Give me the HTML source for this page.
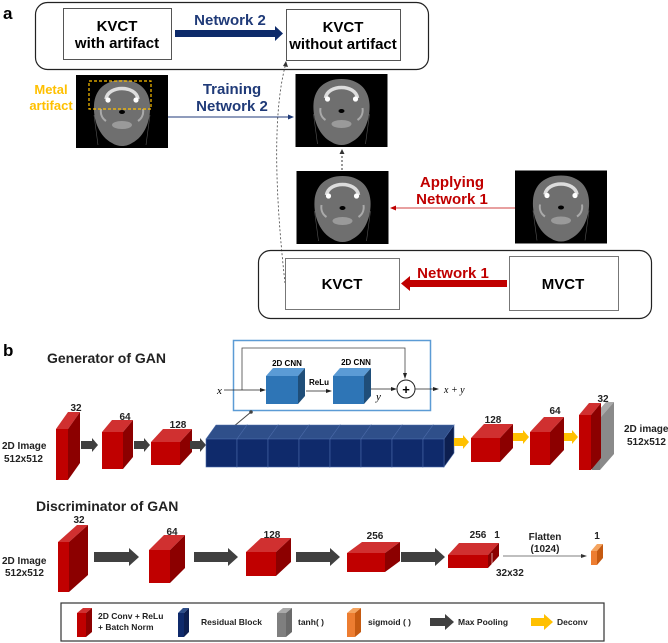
<!DOCTYPE html>
<html><head><meta charset="utf-8"><style>
html,body{margin:0;padding:0;background:#fff;}
svg{display:block;font-family:"Liberation Sans",Arial,sans-serif;}
.b{font-weight:bold;}
</style></head><body>
<svg width="668" height="643" viewBox="0 0 668 643" xmlns="http://www.w3.org/2000/svg">
<defs>
<symbol id="ct" viewBox="0 0 92 73">
<rect width="92" height="73" fill="#000"/>
<path d="M22 70 L18 40 M70 70 L74 40" stroke="#555" stroke-width="0.6" fill="none"/>
<path d="M46 5 C62 5 73 14 74 30 C75 46 68 62 56 68 C50 72 42 72 36 68 C24 62 17 46 18 30 C19 14 30 5 46 5Z" fill="#6f6f6f"/>
<path d="M30 24 C32 10 60 10 62 24" stroke="#ddd" stroke-width="3.5" fill="none"/>
<circle cx="32" cy="25" r="2.6" fill="#fff"/><circle cx="60" cy="25" r="2.6" fill="#fff"/>
<path d="M25 34 C24 40 27 44 30 46 M67 34 C68 40 65 44 62 46" stroke="#aaa" stroke-width="2" fill="none"/>
<ellipse cx="46" cy="37" rx="3" ry="2" fill="#000"/>
<ellipse cx="46" cy="50" rx="10" ry="4" fill="#9a9a9a"/>
</symbol>
</defs>

<!-- section a -->
<text x="3" y="19" class="b" font-size="17">a</text>
<rect x="35.5" y="2.5" width="393" height="67" rx="12" fill="none" stroke="#222" stroke-width="1.2"/>
<rect x="63.5" y="8.5" width="108" height="51" fill="#fff" stroke="#555"/>
<text x="117" y="31" text-anchor="middle" class="b" font-size="15">KVCT</text>
<text x="117" y="48" text-anchor="middle" class="b" font-size="15">with artifact</text>
<text x="230" y="25" text-anchor="middle" class="b" font-size="15" fill="#1f3a78">Network 2</text>
<polygon points="175,30 275,30 275,26 283,33.5 275,41 275,37 175,37" fill="#0d2a6a"/>
<rect x="286.5" y="9.5" width="114" height="51" fill="#fff" stroke="#555"/>
<text x="343" y="32" text-anchor="middle" class="b" font-size="15">KVCT</text>
<text x="343" y="49" text-anchor="middle" class="b" font-size="15">without artifact</text>

<use href="#ct" x="76" y="75" width="92" height="73"/>
<rect x="89" y="81" width="62" height="28" fill="none" stroke="#ffc000" stroke-width="1.2" stroke-dasharray="3,2"/>
<text x="51" y="94" text-anchor="middle" class="b" font-size="13" fill="#ffc000">Metal</text>
<text x="51" y="110" text-anchor="middle" class="b" font-size="13" fill="#ffc000">artifact</text>
<text x="232" y="94" text-anchor="middle" class="b" font-size="15" fill="#1f3a78">Training</text>
<text x="232" y="111" text-anchor="middle" class="b" font-size="15" fill="#1f3a78">Network 2</text>
<line x1="168" y1="117" x2="290" y2="117" stroke="#1f3a78" stroke-width="1"/>
<polygon points="294,117 288,114.5 288,119.5" fill="#1f3a78"/>
<use href="#ct" x="295" y="74" width="93" height="73"/>

<line x1="342" y1="170" x2="342" y2="153" stroke="#333" stroke-dasharray="2,2"/>
<polygon points="342,149 339.5,154 344.5,154" fill="#333"/>
<use href="#ct" x="295" y="171" width="95" height="73"/>
<use href="#ct" x="515" y="170" width="92" height="74"/>
<text x="452" y="187" text-anchor="middle" class="b" font-size="15" fill="#c00000">Applying</text>
<text x="452" y="204" text-anchor="middle" class="b" font-size="15" fill="#c00000">Network 1</text>
<line x1="515" y1="208" x2="394" y2="208" stroke="#d04040" stroke-width="1"/>
<polygon points="390,208 396,205.5 396,210.5" fill="#c00000"/>

<path d="M285 283 C278 220 270 120 286 63" stroke="#444" stroke-width="0.8" fill="none" stroke-dasharray="2,2"/>
<polygon points="286,61 283,66 288,67" fill="#333"/>

<rect x="258.5" y="250.5" width="393" height="68" rx="12" fill="none" stroke="#222" stroke-width="1.2"/>
<rect x="285.5" y="258.5" width="114" height="51" fill="#fff" stroke="#777"/>
<text x="342" y="289" text-anchor="middle" class="b" font-size="15">KVCT</text>
<rect x="509.5" y="256.5" width="109" height="54" fill="#fff" stroke="#777"/>
<text x="563" y="289" text-anchor="middle" class="b" font-size="15">MVCT</text>
<text x="453" y="278" text-anchor="middle" class="b" font-size="15" fill="#c00000">Network 1</text>
<polygon points="507,280 410,280 410,276 401,283.5 410,291 410,287 507,287" fill="#c00000"/>

<!-- section b -->
<text x="3" y="356" class="b" font-size="17">b</text>
<text x="47" y="363" class="b" font-size="14" fill="#222">Generator of GAN</text>
<rect x="233.5" y="340.5" width="197" height="70" fill="none" stroke="#5b9bd5" stroke-width="1.5"/>
<path d="M242 390 L242 348 L405 348 L405 374" stroke="#444" stroke-width="0.8" fill="none"/>
<polygon points="405,379 403,373 407,373" fill="#222"/>
<text x="217" y="394" font-family="Liberation Serif,serif" font-style="italic" font-size="11">x</text>
<line x1="224" y1="390" x2="262" y2="390" stroke="#222" stroke-width="0.8"/>
<polygon points="266,390 260,388 260,392" fill="#222"/>
<text x="287" y="366" text-anchor="middle" font-size="8" class="b">2D CNN</text>
<polygon points="266,376 273,368 305,368 298,376" fill="#5b9bd5"/>
<polygon points="298,376 305,368 305,396 298,404" fill="#1f4e79"/>
<rect x="266" y="376" width="32" height="28" fill="#2e75b6"/>
<text x="319" y="385" text-anchor="middle" font-size="8" class="b">ReLu</text>
<line x1="306" y1="391" x2="328" y2="391" stroke="#222" stroke-width="0.8"/>
<polygon points="332,391 326,389 326,393" fill="#222"/>
<text x="356" y="365" text-anchor="middle" font-size="8" class="b">2D CNN</text>
<polygon points="333,376 340,368 371,368 364,376" fill="#5b9bd5"/>
<polygon points="364,376 371,368 371,396 364,404" fill="#1f4e79"/>
<rect x="333" y="376" width="31" height="28" fill="#2e75b6"/>
<text x="376" y="400" font-family="Liberation Serif,serif" font-style="italic" font-size="11">y</text>
<line x1="371" y1="389" x2="393" y2="389" stroke="#222" stroke-width="0.8"/>
<polygon points="397,389 391,387 391,391" fill="#222"/>
<circle cx="406" cy="389" r="9" fill="#fff" stroke="#222"/>
<text x="406" y="394" text-anchor="middle" font-size="13" class="b">+</text>
<line x1="415" y1="389" x2="435" y2="389" stroke="#222" stroke-width="0.8"/>
<polygon points="439,389 433,387 433,391" fill="#222"/>
<text x="444" y="393" font-family="Liberation Serif,serif" font-style="italic" font-size="10">x + y</text>
<line x1="227" y1="432" x2="251" y2="412" stroke="#444"/>
<circle cx="251" cy="412" r="1.8" fill="#444"/>

<g font-size="10" class="b" text-anchor="middle" fill="#222">
<text x="76" y="411">32</text><text x="125" y="420">64</text><text x="178" y="428">128</text>
<text x="493" y="423">128</text><text x="555" y="414">64</text><text x="603" y="402">32</text>
</g>
<g font-size="10" class="b" fill="#222">
<text x="2" y="449">2D Image</text><text x="4" y="462">512x512</text>
<text x="624" y="432">2D image</text><text x="627" y="445">512x512</text>
</g>
<!-- generator cubes -->
<g>
<polygon points="56,429 68,412 80,412 68,429" fill="#d03030"/><polygon points="68,429 80,412 80,463 68,480" fill="#8c0000"/><rect x="56" y="429" width="12" height="51" fill="#c00000"/>
<polygon points="102,432 112,420 133,420 123,432" fill="#d03030"/><polygon points="123,432 133,420 133,457 123,469" fill="#8c0000"/><rect x="102" y="432" width="21" height="37" fill="#c00000"/>
<polygon points="151,442 163,429 192,429 180,442" fill="#d03030"/><polygon points="180,442 192,429 192,452 180,465" fill="#8c0000"/><rect x="151" y="442" width="29" height="23" fill="#c00000"/>
</g>
<g fill="#404040">
<polygon points="81,441 92,441 92,438 98,445 92,452 92,449 81,449"/>
<polygon points="134,441 144,441 144,438 150,445 144,452 144,449 134,449"/>
<polygon points="190,441 200,441 200,438 206,445 200,452 200,449 190,449"/>
</g>
<g stroke="#4a6aa8" stroke-width="0.6">
<g><polygon points="206,439 216,425 247,425 237,439" fill="#2f4f8a"/><polygon points="237,439 247,425 247,453 237,467" fill="#0d1f50"/><rect x="206" y="439" width="31" height="28" fill="#0f2a6b"/></g>
<g><polygon points="237,439 247,425 278,425 268,439" fill="#2f4f8a"/><polygon points="268,439 278,425 278,453 268,467" fill="#0d1f50"/><rect x="237" y="439" width="31" height="28" fill="#0f2a6b"/></g>
<g><polygon points="268,439 278,425 309,425 299,439" fill="#2f4f8a"/><polygon points="299,439 309,425 309,453 299,467" fill="#0d1f50"/><rect x="268" y="439" width="31" height="28" fill="#0f2a6b"/></g>
<g><polygon points="299,439 309,425 340,425 330,439" fill="#2f4f8a"/><polygon points="330,439 340,425 340,453 330,467" fill="#0d1f50"/><rect x="299" y="439" width="31" height="28" fill="#0f2a6b"/></g>
<g><polygon points="330,439 340,425 371,425 361,439" fill="#2f4f8a"/><polygon points="361,439 371,425 371,453 361,467" fill="#0d1f50"/><rect x="330" y="439" width="31" height="28" fill="#0f2a6b"/></g>
<g><polygon points="361,439 371,425 402,425 392,439" fill="#2f4f8a"/><polygon points="392,439 402,425 402,453 392,467" fill="#0d1f50"/><rect x="361" y="439" width="31" height="28" fill="#0f2a6b"/></g>
<g><polygon points="392,439 402,425 433,425 423,439" fill="#2f4f8a"/><polygon points="423,439 433,425 433,453 423,467" fill="#0d1f50"/><rect x="392" y="439" width="31" height="28" fill="#0f2a6b"/></g>
<g><polygon points="423,439 433,425 454,425 444,439" fill="#2f4f8a"/><polygon points="444,439 454,425 454,453 444,467" fill="#0d1f50"/><rect x="423" y="439" width="21" height="28" fill="#0f2a6b"/></g>
</g>
<g fill="#ffc000">
<polygon points="454,438 463,438 463,435 469,442 463,449 463,446 454,446"/>
<polygon points="513,433 523,433 523,430 529,437 523,444 523,441 513,441"/>
<polygon points="562,433 572,433 572,430 578,437 572,444 572,441 562,441"/>
</g>
<polygon points="471,438 484,424 513,424 500,438" fill="#d03030"/><polygon points="500,438 513,424 513,448 500,462" fill="#8c0000"/><rect x="471" y="438" width="29" height="24" fill="#c00000"/>
<polygon points="530,432 544,417 564,417 550,432" fill="#d03030"/><polygon points="550,432 564,417 564,450 550,465" fill="#8c0000"/><rect x="530" y="432" width="20" height="33" fill="#c00000"/>
<polygon points="592,418 606,402 614,402 600,418" fill="#aaa"/><polygon points="600,418 614,402 614,454 600,470" fill="#8a8a8a"/><rect x="592" y="418" width="8" height="52" fill="#7f7f7f"/>
<polygon points="579,415 589,403 601,403 591,415" fill="#d03030"/><polygon points="591,415 601,403 601,458 591,470" fill="#8c0000"/><rect x="579" y="415" width="12" height="55" fill="#c00000"/>

<!-- discriminator -->
<text x="36" y="511" class="b" font-size="14" fill="#222">Discriminator of GAN</text>
<g font-size="10" class="b" text-anchor="middle" fill="#222">
<text x="79" y="523">32</text><text x="172" y="535">64</text><text x="272" y="538">128</text><text x="375" y="539">256</text>
<text x="478" y="538">256</text><text x="497" y="538">1</text><text x="597" y="539">1</text>
<text x="545" y="540">Flatten</text><text x="545" y="552">(1024)</text>
</g>
<g font-size="10" class="b" fill="#222">
<text x="2" y="564">2D Image</text><text x="5" y="576">512x512</text>
<text x="496" y="576">32x32</text>
</g>
<polygon points="58,542 77,525 88,525 69,542" fill="#d03030"/><polygon points="69,542 88,525 88,575 69,592" fill="#8c0000"/><rect x="58" y="542" width="11" height="50" fill="#c00000"/>
<polygon points="149,550 164,535 185,535 170,550" fill="#d03030"/><polygon points="170,550 185,535 185,568 170,583" fill="#8c0000"/><rect x="149" y="550" width="21" height="33" fill="#c00000"/>
<polygon points="246,552 261,538 291,538 276,552" fill="#d03030"/><polygon points="276,552 291,538 291,562 276,576" fill="#8c0000"/><rect x="246" y="552" width="30" height="24" fill="#c00000"/>
<polygon points="347,553 362,542 400,542 385,553" fill="#d03030"/><polygon points="385,553 400,542 400,561 385,572" fill="#8c0000"/><rect x="347" y="553" width="38" height="19" fill="#c00000"/>
<polygon points="448,555 459,543 499,543 488,555" fill="#d03030"/><polygon points="488,555 499,543 499,556 488,568" fill="#8c0000"/><rect x="448" y="555" width="40" height="13" fill="#c00000"/>
<line x1="492" y1="553" x2="492" y2="569" stroke="#fff" stroke-width="0.6"/>
<g fill="#404040">
<polygon points="94,552 129,552 129,548 139,557 129,566 129,562 94,562"/>
<polygon points="194,552 228,552 228,548 238,557 228,566 228,562 194,562"/>
<polygon points="296,552 330,552 330,548 340,557 330,566 330,562 296,562"/>
<polygon points="401,552 435,552 435,548 445,557 435,566 435,562 401,562"/>
</g>
<line x1="503" y1="556" x2="583" y2="556" stroke="#555" stroke-width="0.8"/>
<polygon points="587,556 581,554 581,558" fill="#333"/>
<polygon points="591,551 597,544 603,544 597,551" fill="#f4a460"/><polygon points="597,551 603,544 603,558 597,565" fill="#c55a11"/><rect x="591" y="551" width="6" height="14" fill="#ed7d31"/>

<!-- legend -->
<rect x="61" y="603" width="543" height="38" fill="#fff" stroke="#333" stroke-width="1.2"/>
<polygon points="77,613 83,608 92,608 86,613" fill="#d03030"/><polygon points="86,613 92,608 92,632 86,637" fill="#8c0000"/><rect x="77" y="613" width="9" height="24" fill="#c00000"/>
<text x="98" y="619" font-size="8.5" class="b" fill="#222">2D Conv + ReLu</text>
<text x="98" y="630" font-size="8.5" class="b" fill="#222">+ Batch Norm</text>
<polygon points="178,613 183,608 189,608 184,613" fill="#2f4f8a"/><polygon points="184,613 189,608 189,632 184,637" fill="#0d1f50"/><rect x="178" y="613" width="6" height="24" fill="#0f2a6b"/>
<text x="201" y="625" font-size="8.5" class="b" fill="#222">Residual Block</text>
<polygon points="277,613 283,608 292,608 286,613" fill="#aaa"/><polygon points="286,613 292,608 292,632 286,637" fill="#6a6a6a"/><rect x="277" y="613" width="9" height="24" fill="#7f7f7f"/>
<text x="298" y="625" font-size="8.5" class="b" fill="#222">tanh( )</text>
<polygon points="347,613 353,608 361,608 355,613" fill="#f4a460"/><polygon points="355,613 361,608 361,632 355,637" fill="#c55a11"/><rect x="347" y="613" width="8" height="24" fill="#ed7d31"/>
<text x="368" y="625" font-size="8.5" class="b" fill="#222">sigmoid ( )</text>
<polygon points="430,618 445,618 445,614 454,622 445,630 445,626 430,626" fill="#404040"/>
<text x="458" y="625" font-size="8.5" class="b" fill="#222">Max Pooling</text>
<polygon points="531,618 544,618 544,614 553,622 544,630 544,626 531,626" fill="#ffc000"/>
<text x="557" y="625" font-size="8.5" class="b" fill="#222">Deconv</text>
</svg>
</body></html>
